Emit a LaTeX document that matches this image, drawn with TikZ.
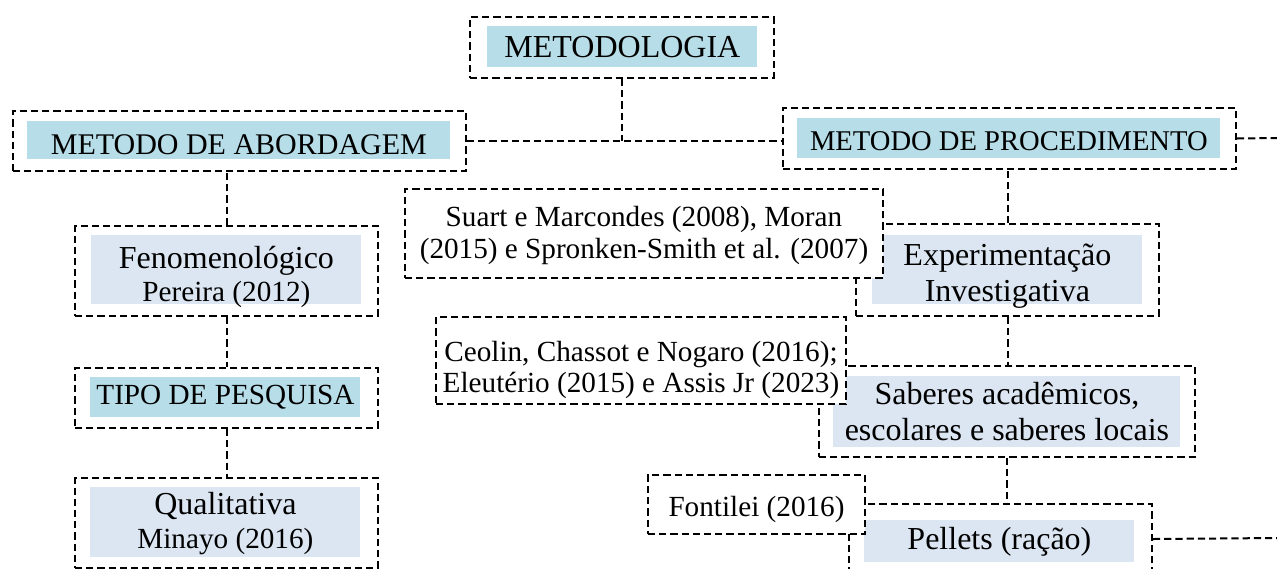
\documentclass[tikz,border=0pt]{standalone}
\usepackage{fontspec}
\setmainfont{Liberation Serif}
\usepackage{xcolor}
\usepackage{tikz}
\usetikzlibrary{positioning}

\definecolor{headblue}{HTML}{B7DEE8}
\definecolor{subblue}{HTML}{DCE6F2}

\newcommand{\fsbig}{\fontsize{16}{16}\selectfont}
\newcommand{\fsmid}{\fontsize{14.6}{16}\selectfont}

\begin{document}
\begin{tikzpicture}[
  x=0.5pt, y=-0.5pt,
  dline/.style={line width=1pt, dash pattern=on 3.6pt off 2pt},
  dbox/.style 2 args={draw, dline, fill=white, anchor=north west, inner sep=0pt,
    minimum width=#1*0.5pt, minimum height=#2*0.5pt},
  headband/.style 2 args={fill=headblue, anchor=north west, inner sep=0pt,
    minimum width=#1*0.5pt, minimum height=#2*0.5pt},
  subband/.style 2 args={fill=subblue, anchor=north west, inner sep=0pt,
    minimum width=#1*0.5pt, minimum height=#2*0.5pt},
  txt/.style={align=center, inner sep=0pt}
]
  \useasboundingbox (0,0) rectangle (1277,568);

  % top
  \node[dbox={304}{61}] (M) at (469,16) {};
  \node[headband={270}{41}] (M-b) at (487,26) {};
  \node[txt, font=\fsbig] (M-t) at (M-b) {METODOLOGIA};

  % left column
  \node[dbox={453}{60}] (MA) at (12,110) {};
  \node[headband={423}{38}] (MA-b) at (27,121) {};
  \node[txt, font=\fontsize{15}{16}\selectfont, yshift=-2pt] (MA-t) at (MA-b) {METODO DE ABORDAGEM};
  \node[dbox={303}{90}] (F) at (74,225) {};
  \node[subband={270}{69}] (F-b) at (91,235) {};
  \node[txt, font=\fsbig, yshift=-3.5pt] (F-t) at (F-b) {Fenomenológico\\[0.5pt]{\fsmid Pereira (2012)}};
  \node[dbox={303}{60}] (TP) at (74,367) {};
  \node[headband={270}{40}] (TP-b) at (90,377) {};
  \node[txt, font=\fsmid] (TP-t) at (TP-b) {TIPO DE PESQUISA};
  \node[dbox={303}{90}] (Q) at (74,477) {};
  \node[subband={270}{70}] (Q-b) at (90,487) {};
  \node[txt, font=\fsbig, yshift=-0.5pt] (Q-t) at (Q-b) {Qualitativa\\[1pt]{\fsmid Minayo (2016)}};

  % right column
  \node[dbox={453}{61}] (MP) at (782,107) {};
  \node[headband={423}{40}] (MP-b) at (797,118) {};
  \node[txt, font=\fontsize{14.3}{16}\selectfont, yshift=-1.5pt] (MP-t) at (MP-b) {METODO DE PROCEDIMENTO};
  \node[dbox={303}{92}] (E) at (855,223) {};
  \node[subband={270}{69}] (E-b) at (872,235) {};
  \node[txt, font=\fsbig, yshift=-3pt] (E-t) at (E-b) {Experimentação\\[2pt]Investigativa};
  \node[dbox={478}{89}] (R1) at (404,188) {};
  \node[txt, font=\fsmid, yshift=-1pt] (R1-t) at (R1)
    {Suart e Marcondes (2008), Moran\\(2015) e Spronken-Smith et al. (2007)};
  \node[dbox={376}{91}] (S) at (818,365) {};
  \node[subband={347}{71}] (S-b) at (833,376) {};
  \node[txt, font=\fontsize{16}{18}\selectfont] (S-t) at (S-b)
    {Saberes acadêmicos,\\escolares e saberes locais};
  \node[dbox={410}{87}] (R2) at (435,316) {};
  \node[txt, font=\fsmid, yshift=-4.5pt] (R2-t) at (R2)
    {Ceolin, Chassot e Nogaro (2016);\\[-0.5pt]Eleutério (2015) e Assis Jr (2023)};
  \node[dbox={303}{70}] (P) at (848,503) {};
  \node[subband={270}{42}] (P-b) at (864,520) {};
  \node[txt, font=\fsbig] (P-t) at (P-b) {Pellets (ração)};
  \node[dbox={217}{59}] (R3) at (647,474) {};
  \node[txt, font=\fsmid, yshift=-2.5pt] (R3-t) at (R3) {Fontilei (2016)};

  \coordinate (out1) at (1277,138);
  \coordinate (out2) at (1277,538);

  % connectors
  \draw[dline] (M.south) -- (M.south |- MA.east);
  \draw[dline] (MA.east) -- (MA.east -| MP.west);
  \draw[dline] (MP.east) -- (out1);
  \draw[dline] (F.north) -- (F.north |- MA.south);
  \draw[dline] (F.south) -- (TP.north);
  \draw[dline] (TP.south) -- (Q.north);
  \draw[dline] (E.north) -- (E.north |- MP.south);
  \draw[dline] (E.south) -- (E.south |- S.north);
  \draw[dline] (S.south) -- (S.south |- P.north);
  \draw[dline] (P.east) -- (out2);
\end{tikzpicture}
\end{document}
